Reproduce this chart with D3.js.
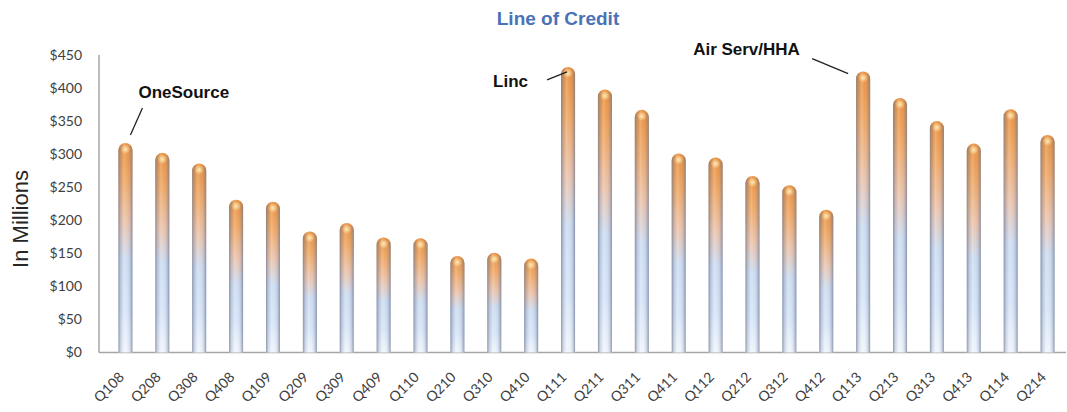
<!DOCTYPE html>
<html>
<head>
<meta charset="utf-8">
<script src="https://cdn.jsdelivr.net/npm/d3@7"></script>
<style>
  body { margin: 0; background: #fff; }
  text { font-family: Lato, "Open Sans", sans-serif; }
</style>
</head>
<body>
<div id="chart"></div>
<script>
// quarters and line of credit ($ millions)
const quarters = ["Q108","Q208","Q308","Q408","Q109","Q209","Q309","Q409","Q110","Q210","Q310","Q410",
  "Q111","Q211","Q311","Q411","Q112","Q212","Q312","Q412","Q113","Q213","Q313","Q413","Q114","Q214"];
const credit = [317,302,286,231,228,183,196,174,173,146,151,142,
  432,398,367,301,295,267,253,216,425,385,350,316,368,329];
const yTicks = [0,50,100,150,200,250,300,350,400,450];
const annotations = [
  {q:"Q108", label:"OneSource"},
  {q:"Q111", label:"Linc"},
  {q:"Q113", label:"Air Serv/HHA"}
];

const W = 1067, H = 412;
const margin = {top:55, left:99, right:1, bottom:60};

const svg = d3.select("#chart").append("svg")
  .attr("width",W).attr("height",H);

const defs = svg.append("defs");
const vg = defs.append("linearGradient").attr("id","barFill")
  .attr("x1",0).attr("y1",0).attr("x2",0).attr("y2",1);
[[0,"#e8862c"],[0.18,"#eea058"],[0.38,"#e9bfa6"],[0.55,"#c9d9f0"],[0.8,"#d3e2f7"],[1,"#eef4fc"]]
  .forEach(s => vg.append("stop").attr("offset",s[0]).attr("stop-color",s[1]));
const hg = defs.append("linearGradient").attr("id","barShade")
  .attr("x1",0).attr("y1",0).attr("x2",1).attr("y2",0);
[[0,"#6d7890",0.75],[0.18,"#8a93a8",0.25],[0.4,"#ffffff",0.25],[0.6,"#ffffff",0.1],[0.82,"#8a93a8",0.25],[1,"#6d7890",0.75]]
  .forEach(s => hg.append("stop").attr("offset",s[0]).attr("stop-color",s[1]).attr("stop-opacity",s[2]));
const cap = defs.append("radialGradient").attr("id","capGlow").attr("cx",0.5).attr("cy",0.5).attr("r",0.5);
cap.append("stop").attr("offset",0).attr("stop-color","#fff3c0").attr("stop-opacity",0.9);
cap.append("stop").attr("offset",1).attr("stop-color","#fff3c0").attr("stop-opacity",0);

const x = d3.scaleBand().domain(quarters).range([107,1066]).paddingInner(0.62).paddingOuter(0.31);
const y = d3.scaleLinear().domain([0,450]).range([352.5,55]);

// axes
const axisColor = "#a6a6a6";
svg.append("line").attr("x1",margin.left).attr("x2",margin.left)
  .attr("y1",y(450)).attr("y2",y(0)).attr("stroke",axisColor).attr("stroke-width",1.5);
svg.append("line").attr("x1",margin.left).attr("x2",W-1)
  .attr("y1",y(0)).attr("y2",y(0)).attr("stroke",axisColor).attr("stroke-width",1.5);

svg.append("g").selectAll("text").data(yTicks).join("text")
  .attr("x",82).attr("y",d => y(d)).attr("dy","0.35em")
  .attr("text-anchor","end").attr("fill","#404040").style("font-size","14px")
  .text(d => "$" + d);

svg.append("g").selectAll("text").data(quarters).join("text")
  .attr("transform",d => `translate(${x(d)+x.bandwidth()/2-4},${y(0)+22}) rotate(-45)`)
  .attr("text-anchor","end").attr("dy","0.35em")
  .attr("fill","#404040").style("font-size","14px")
  .text(d => d);

// bars
const w = x.bandwidth(), r = w/2;
const bars = svg.append("g").selectAll("g").data(quarters).join("g");
const barPath = (d,i) => {
  const x0 = x(d), top = y(credit[i]), base = y(0);
  return `M${x0},${top+r} A${r},${r} 0 0 1 ${x0+w},${top+r} V${base} H${x0} Z`;
};
bars.append("path").attr("d",barPath).attr("fill","url(#barFill)");
bars.append("path").attr("d",barPath).attr("fill","url(#barShade)");
bars.append("ellipse")
  .attr("cx",d => x(d)+w/2).attr("cy",(d,i) => y(credit[i])+r*0.9)
  .attr("rx",w*0.35).attr("ry",r*0.7).attr("fill","url(#capGlow)");

// title
svg.append("text").attr("x",558).attr("y",18).attr("dy","0.35em")
  .attr("text-anchor","middle").attr("fill","#4a72b8")
  .style("font-size","19px").style("font-weight","bold")
  .style("font-family","'Liberation Sans', Arial, sans-serif")
  .text("Line of Credit");

// y label
svg.append("text").attr("transform","translate(20,219) rotate(-90)")
  .attr("text-anchor","middle").attr("dy","0.35em")
  .attr("fill","#262626").style("font-size","22px")
  .style("font-family","'Liberation Sans', Arial, sans-serif")
  .text("In Millions");

// annotations
const annPos = {
  "OneSource":   {tx:13, ty:-51, anchor:"start", line:[[17,-35],[5,-8]]},
  "Linc":        {tx:-75, ty:14,  anchor:"start", line:[[-21,13],[-1,5]]},
  "Air Serv/HHA":{tx:-170,ty:-22, anchor:"start", line:[[-51,-13],[-15,2]]}
};
annotations.forEach(a => {
  const i = quarters.indexOf(a.q);
  const cx = x(a.q)+w/2, top = y(credit[i]);
  const p = annPos[a.label];
  svg.append("line")
    .attr("x1",cx+p.line[0][0]).attr("y1",top+p.line[0][1])
    .attr("x2",cx+p.line[1][0]).attr("y2",top+p.line[1][1])
    .attr("stroke","#222").attr("stroke-width",1.3);
  svg.append("text").attr("x",cx+p.tx).attr("y",top+p.ty).attr("dy","0.35em")
    .attr("text-anchor",p.anchor).attr("fill","#111")
    .style("font-size","17px").style("font-weight","bold")
    .style("font-family","'Liberation Sans', Arial, sans-serif")
    .text(a.label);
});
</script>
</body>
</html>
